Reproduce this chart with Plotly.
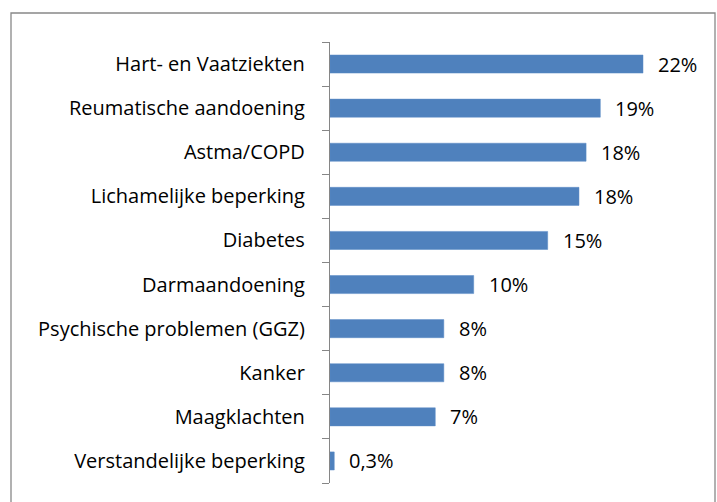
import plotly.graph_objects as go

categories = [
    "Hart- en Vaatziekten",
    "Reumatische aandoening",
    "Astma/COPD",
    "Lichamelijke beperking",
    "Diabetes",
    "Darmaandoening",
    "Psychische problemen (GGZ)",
    "Kanker",
    "Maagklachten",
    "Verstandelijke beperking",
]
values = [22.0, 19.0, 18.0, 17.5, 15.3, 10.1, 8.0, 8.0, 7.4, 0.3]
value_labels = ["22%", "19%", "18%", "18%", "15%", "10%", "8%", "8%", "7%", "0,3%"]

FONT = "Open Sans"
FS = 20
W, H = 717, 502
ML, MR, MT, MB = 330, 17, 42, 19
PW, PH = W - ML - MR, H - MT - MB

fig = go.Figure()
fig.add_trace(go.Bar(
    y=categories,
    x=values,
    orientation="h",
    marker=dict(color="#4F81BD", line=dict(color="#5A8BC6", width=0.5)),
    hoverinfo="skip",
))

for cat, v, lab in zip(categories, values, value_labels):
    fig.add_annotation(
        x=v, y=cat, text=lab, showarrow=False,
        xanchor="left", yanchor="middle", xshift=13,
        font=dict(family=FONT, size=FS, color="#000000"),
    )

def px_x(p):
    return (p - ML) / PW

def px_y(p):
    return 1 - (p - MT) / PH

fig.add_shape(
    type="rect", xref="paper", yref="paper",
    x0=px_x(11), x1=px_x(715), y0=px_y(515), y1=px_y(13),
    line=dict(color="#888888", width=1.3), fillcolor="rgba(0,0,0,0)",
    layer="below",
)

fig.update_layout(
    width=W, height=H,
    margin=dict(l=ML, r=MR, t=MT, b=MB, pad=0),
    paper_bgcolor="white", plot_bgcolor="white",
    showlegend=False,
    bargap=0.59,
    font=dict(family=FONT, size=FS, color="#000000"),
    xaxis=dict(range=[0, PW / (313 / 22)], visible=False, fixedrange=True),
    yaxis=dict(
        categoryorder="array", categoryarray=categories[::-1],
        showline=True, linecolor="#868686", linewidth=1.3,
        ticks="outside", ticklen=7, tickcolor="#868686", tickwidth=1.3,
        tickson="boundaries", showgrid=False,
        ticklabelstandoff=20,
        tickfont=dict(family=FONT, size=FS, color="#000000"),
        fixedrange=True,
    ),
)

fig.write_html(
    "out.html",
    config={"displayModeBar": False},
    post_script="document.body.style.margin='0';document.body.style.overflow='hidden';",
)
